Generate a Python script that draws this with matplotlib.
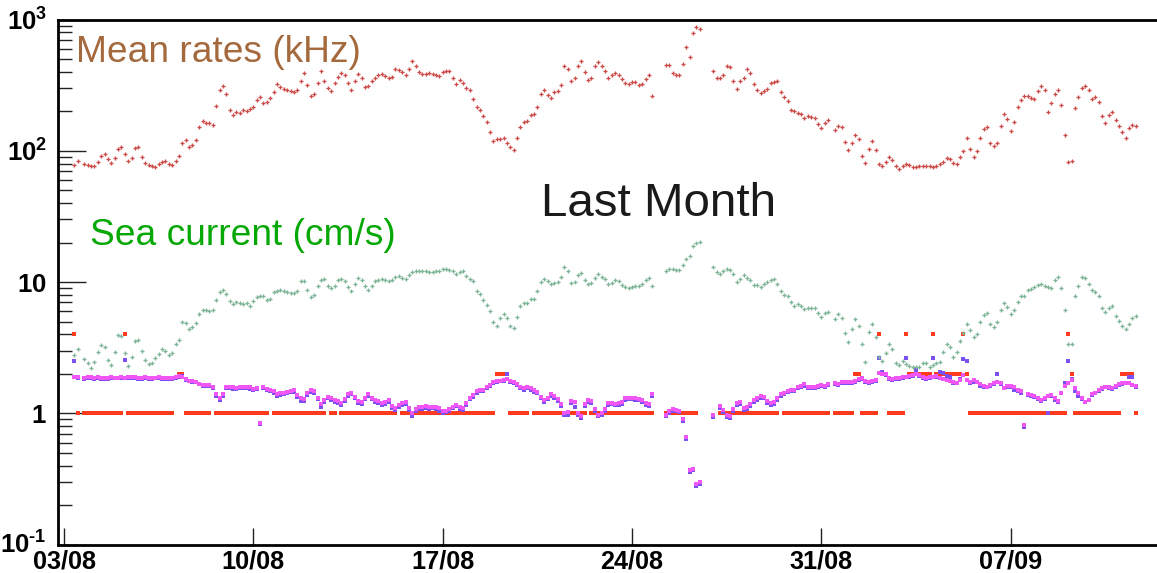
import numpy as np
import matplotlib
matplotlib.use("Agg")
import matplotlib.pyplot as plt
from matplotlib.ticker import LogLocator, NullFormatter
from matplotlib.transforms import ScaledTranslation

N = np.nan

# ---------------- data: 3-hourly samples, 8 per day, day 0 = 03/08 ----------------
mean_rate_khz = [
    N, N, N, 78, 83, N, 80, 78,
    76, 77, 82, 92, 94, 87, 81, 88,
    104, 106, 95, 84, 88, 105, 107, 90,
    81, 78, 76, 75, 79, 82, 84, 79,
    78, 84, 91, 115, 121, 106, 110, 121,
    152, 169, 163, 164, 158, 220, 290, 313,
    270, 204, 189, 196, 194, 206, 202, 208,
    214, 245, 258, 232, 237, 252, 278, 322,
    307, 295, 290, 283, 280, 290, 340, 388,
    316, 262, 270, 326, 402, 340, 303, 283,
    331, 366, 388, 377, 326, 290, 341, 384,
    361, 307, 310, 340, 360, 375, 384, 373,
    361, 365, 419, 414, 400, 380, 420, 480,
    443, 395, 384, 384, 390, 382, 375, 373,
    395, 402, 402, 360, 322, 345, 330, 303,
    290, 250, 216, 204, 185, 165, 140, 118,
    123, 123, 125, 115, 107, 102, 125, 152,
    166, 169, 187, 190, 215, 270, 290, 265,
    251, 281, 286, 318, 443, 420, 340, 361,
    443, 482, 395, 345, 360, 440, 475, 443,
    402, 361, 380, 388, 378, 352, 331, 322,
    334, 335, 318, 322, 350, 380, 260, N,
    N, N, 454, 454, 388, 380, 380, 459,
    622, 520, 795, 881, 853, N, N, N,
    402, 361, 358, 380, 440, 431, 340, 298,
    341, 358, 419, 391, 320, 290, 275, 283,
    298, 326, 335, 341, 280, 255, 240, 205,
    202, 195, 190, 179, 183, 182, 177, 160,
    148, 163, 172, N, 145, 155, 151, 117,
    102, 115, 133, 123, 92, 81, 104, 119,
    102, 80, 77, 82, 90, 85, 77, 73,
    76, 79, 78, 75, 75, 76, 77, 76,
    76, 75, 77, 79, 82, 88, 86, 81,
    80, 90, 100, 125, 104, 90, 99, 125,
    147, 151, 115, 108, 115, 155, 190, 174,
    142, 166, 216, 245, 261, 261, 252, 248,
    283, 309, 291, 196, 233, 273, 290, 224,
    132, 82, 83, 210, 255, 300, 314, 291,
    248, 258, 236, 183, 164, 187, 197, 171,
    155, 138, 126, 150, 158, 155, N, N,
]

sea_current_cms = [
    N, N, N, 2.79, 3.10, N, 2.61, 2.41,
    2.22, 2.48, 2.96, 3.29, 3.23, 2.56, 2.32, 2.92,
    3.97, 3.90, 2.87, 2.28, 2.71, 3.59, 3.63, 3.01,
    2.53, 2.39, 2.42, 2.65, 2.81, 3.07, 2.98, 2.78,
    2.89, 3.36, 3.63, 5.01, 4.92, 4.41, 4.54, 4.86,
    5.67, 6.08, 6.08, 6.0, 6.15, 7.25, 8.38, 8.73,
    8.14, 7.12, 6.83, 7.1, 6.99, 6.85, 6.9, 6.63,
    7.12, 7.67, 7.86, 7.77, 7.25, 7.46, 8.38, 8.63,
    8.78, 8.52, 8.38, 8.24, 8.24, 8.6, 10.16, 10.16,
    8.73, 7.67, 8.0, 9.26, 10.4, 10.5, 9.37, 9.05,
    9.42, 10.3, 10.5, 10.16, 9.15, 8.6, 9.6, 10.8,
    10.3, 9.26, 8.73, 9.42, 10.16, 10.3, 10.6, 10.3,
    10.16, 10.3, 11.0, 11.2, 10.8, 10.6, 11.4, 12.0,
    12.1, 12.1, 12.1, 12.1, 11.9, 11.9, 12.1, 12.2,
    12.5, 12.5, 12.4, 12.2, 11.6, 12.0, 12.1, 11.2,
    10.6, 10.16, 8.52, 8.05, 7.34, 6.7, 6.0, 5.0,
    4.6, 5.3, 5.74, 5.3, 4.67, 4.49, 5.47, 6.52,
    6.9, 6.9, 7.46, 7.46, 8.6, 10.0, 10.6, 10.2,
    9.7, 9.88, 10.0, 11.0, 13.0, 12.1, 9.9, 10.1,
    11.4, 11.7, 10.4, 9.7, 9.9, 10.8, 11.5, 10.9,
    10.6, 9.7, 9.88, 10.3, 10.2, 9.5, 9.15, 8.98,
    9.15, 9.3, 9.4, 9.7, 10.3, 10.8, 9.42, N,
    N, N, 12.1, 12.6, 12.6, 12.4, 12.3, 13.4,
    15.0, 15.9, 18.7, 19.8, 20.1, N, N, N,
    13.0, 11.9, 11.6, 12.1, 12.5, 12.4, 11.5, 10.1,
    10.6, 11.4, 10.8, 10.4, 9.53, 9.53, 9.2, 9.59,
    10.0, 10.4, 10.6, 9.7, 8.6, 8.0, 7.8, 7.0,
    6.55, 6.83, 6.63, 6.26, 6.37, 6.37, 6.37, 5.79,
    5.41, 5.84, 5.97, N, 5.25, 5.67, 5.31, 4.08,
    3.48, 4.41, 5.2, 4.67, 3.39, 2.48, 4.15, 4.76,
    3.80, 2.7, 2.5, 2.89, 3.35, 3.1, 2.41, 2.32,
    2.5, 2.39, 2.3, 2.25, 2.25, 2.25, 2.4, 2.4,
    2.25, 2.32, 2.41, 2.48, 2.92, 3.39, 3.2, 2.7,
    2.96, 3.53, 4.1, 4.8, 4.33, 3.8, 4.0, 5.0,
    5.6, 5.79, 4.81, 4.54, 4.95, 6.08, 6.9, 6.44,
    5.67, 6.08, 7.03, 7.77, 7.9, 8.73, 8.9, 9.1,
    9.53, 9.7, 9.42, 9.15, 9.05, 10.4, 11.0, 9.05,
    6.08, 3.39, 3.39, 7.81, 9.42, 11.0, 10.8, 9.7,
    8.73, 8.38, 7.81, 6.37, 5.89, 6.37, 6.52, 5.52,
    5.04, 4.67, 4.41, 4.81, 5.31, 5.5, N, N,
]

red_level = [
    N, N, N, 4, 1, N, 1, 1,
    1, 1, 1, 1, 1, 1, 1, 1,
    1, 1, 4, 1, 1, 1, 1, 1,
    1, 1, 1, 1, 1, 1, 1, 1,
    1, N, 2, 2, 1, 1, 1, 1,
    1, 1, 1, 1, N, 1, 1, 1,
    1, 1, 1, 1, 1, 1, 1, 1,
    1, 1, 1, 1, 1, N, 1, 1,
    1, 1, 1, 1, 1, 1, 1, 1,
    1, 1, 1, 1, 1, 1, N, 1,
    1, N, 1, 1, 1, 1, 1, 1,
    1, 1, 1, 1, 1, 1, 1, 1,
    1, 1, 1, N, 1, 1, 1, 1,
    1, 1, 1, 1, 1, 1, 1, 1,
    1, 1, 1, 1, 1, 1, 1, 1,
    1, 1, 1, 1, 1, 1, 1, 1,
    2, 2, 2, 2, 1, 1, 1, 1,
    1, 1, N, 1, 1, 1, 1, 1,
    1, 1, 1, 1, 1, 1, 1, 1,
    1, 1, 1, N, 1, 1, 1, 1,
    1, 1, 1, 1, 1, 1, 1, 1,
    1, 1, 1, 1, 1, 1, 1, N,
    N, N, 1, 1, 1, 1, 1, 1,
    1, 1, 1, 1, N, N, N, N,
    N, N, 1, 1, 1, 1, 1, 1,
    1, 1, 1, 1, 1, 1, 1, 1,
    1, 1, 1, 1, N, 1, 1, 1,
    1, 1, 1, 1, 1, 1, 1, 1,
    1, 1, 1, N, 1, 1, 1, 1,
    1, 1, 2, 2, 1, 1, 1, 1,
    1, 4, N, N, 1, 1, 1, 1,
    1, 4, 2, 2, 2, 2, 2, 2,
    2, 4, 2, 2, 2, 2, 2, 2,
    2, 2, 4, 2, 1, 1, 1, 1,
    1, 1, 1, 1, 1, 1, 1, 1,
    1, 1, 1, 1, 1, 1, 1, 1,
    1, 1, 1, N, 1, 1, 1, 1,
    1, 4, 2, 1, 1, 1, 1, 1,
    1, 1, 1, 1, 1, 1, 1, 1,
    1, 2, 2, 2, 2, 1, N, N,
]

purple_level = [
    N, N, N, 2.50, 1.85, N, 1.84, 1.86,
    1.85, 1.84, 1.86, 1.84, 1.82, 1.84, 1.86, 1.85,
    1.85, 1.86, 2.55, 1.86, 1.85, 1.85, 1.83, 1.84,
    1.85, 1.84, 1.84, 1.85, 1.85, 1.83, 1.82, 1.84,
    1.84, 1.85, 1.90, 1.92, 1.80, 1.76, 1.74, 1.72,
    1.66, 1.63, 1.62, 1.62, 1.55, 1.35, 1.27, 1.36,
    1.55, 1.57, 1.54, 1.53, 1.57, 1.55, 1.57, 1.53,
    1.52, 1.53, 0.83, 1.57, 1.50, 1.48, 1.44, 1.36,
    1.38, 1.40, 1.42, 1.45, 1.46, 1.34, 1.25, 1.24,
    1.38, 1.46, 1.44, 1.28, 1.12, 1.22, 1.30, 1.27,
    1.22, 1.20, 1.16, 1.24, 1.36, 1.41, 1.30, 1.20,
    1.18, 1.28, 1.36, 1.28, 1.22, 1.21, 1.16, 1.18,
    1.22, 1.10, 1.06, 1.12, 1.16, 1.18, 1.06, 0.95,
    1.04, 1.08, 1.08, 1.10, 1.08, 1.09, 1.08, 1.05,
    1.01, 1.02, 1.05, 1.09, 1.13, 1.08, 1.06, 1.16,
    1.28, 1.34, 1.44, 1.48, 1.48, 1.56, 1.62, 1.70,
    1.74, 1.76, 1.78, 1.98, 1.74, 1.70, 1.64, 1.57,
    1.52, 1.55, 1.52, 1.46, 1.42, 1.30, 1.22, 1.28,
    1.36, 1.32, 1.24, 1.14, 0.97, 0.98, 1.20, 1.12,
    0.97, 0.93, 1.14, 1.22, 1.20, 1.04, 0.95, 0.97,
    1.04, 1.16, 1.17, 1.15, 1.16, 1.18, 1.27, 1.29,
    1.28, 1.27, 1.26, 1.22, 1.16, 1.14, 1.36, N,
    N, N, 0.95, 1.00, 1.05, 1.04, 1.02, 0.88,
    0.64, 0.36, 0.37, 0.28, 0.29, N, N, N,
    0.94, N, 1.10, 1.03, 0.94, 0.92, 1.05, 1.16,
    1.18, 1.06, 1.08, 1.14, 1.22, 1.27, 1.32, 1.30,
    1.20, 1.16, 1.18, 1.26, 1.36, 1.40, 1.45, 1.47,
    1.47, 1.55, 1.58, 1.63, 1.57, 1.55, 1.57, 1.58,
    1.61, 1.59, 1.65, N, 1.66, 1.64, 1.69, 1.71,
    1.70, 1.70, 1.74, 1.79, 1.82, 1.73, 1.69, 1.72,
    1.77, 2.62, 2.05, 1.95, 1.83, 1.79, 1.82, 1.82,
    1.85, 2.62, 1.90, 1.93, 2.14, 1.94, 1.87, 1.83,
    1.87, 2.65, 1.89, 2.07, 2.04, 1.92, 1.90, 1.70,
    1.69, 1.82, 2.58, 2.52, 1.71, 1.74, 1.72, 1.62,
    1.59, 1.58, 1.62, 1.67, 2.01, 1.66, 1.55, 1.58,
    1.58, 1.52, 1.48, 1.44, 0.79, 1.38, 1.36, 1.34,
    1.28, 1.24, 1.28, 1.01, 1.36, 1.26, 1.22, 1.42,
    1.71, 2.52, 1.82, 1.49, 1.36, 1.28, 1.22, 1.26,
    1.38, 1.42, 1.48, 1.54, 1.58, 1.55, 1.54, 1.60,
    1.64, 1.68, 1.70, 1.88, 1.88, 1.58, N, N,
]

magenta_level = [
    N, N, N, 1.88, 1.88, N, 1.86, 1.88,
    1.88, 1.86, 1.88, 1.87, 1.85, 1.86, 1.88, 1.87,
    1.87, 1.88, 1.87, 1.90, 1.88, 1.88, 1.86, 1.87,
    1.88, 1.87, 1.86, 1.87, 1.88, 1.86, 1.85, 1.86,
    1.86, 1.88, 1.92, 1.90, 1.82, 1.78, 1.76, 1.74,
    1.68, 1.65, 1.64, 1.64, 1.58, 1.40, 1.32, 1.40,
    1.58, 1.60, 1.58, 1.56, 1.60, 1.58, 1.60, 1.58,
    1.54, 1.56, 0.85, 1.60, 1.53, 1.50, 1.47, 1.40,
    1.42, 1.44, 1.46, 1.48, 1.50, 1.38, 1.30, 1.28,
    1.42, 1.50, 1.48, 1.32, 1.18, 1.26, 1.34, 1.30,
    1.26, 1.24, 1.20, 1.28, 1.40, 1.44, 1.34, 1.24,
    1.22, 1.32, 1.40, 1.32, 1.26, 1.25, 1.20, 1.22,
    1.26, 1.14, 1.10, 1.16, 1.20, 1.22, 1.10, 1.00,
    1.08, 1.12, 1.11, 1.13, 1.11, 1.12, 1.11, 1.09,
    1.04, 1.05, 1.08, 1.12, 1.16, 1.12, 1.10, 1.20,
    1.32, 1.38, 1.48, 1.52, 1.52, 1.60, 1.65, 1.74,
    1.76, 1.78, 1.80, 1.82, 1.76, 1.72, 1.66, 1.60,
    1.56, 1.58, 1.55, 1.50, 1.45, 1.34, 1.26, 1.32,
    1.40, 1.36, 1.28, 1.18, 1.00, 1.02, 1.24, 1.22,
    1.00, 0.96, 1.18, 1.26, 1.24, 1.08, 0.98, 1.00,
    1.08, 1.20, 1.20, 1.18, 1.20, 1.22, 1.30, 1.32,
    1.31, 1.30, 1.29, 1.26, 1.20, 1.18, 1.40, N,
    N, N, 0.98, 1.04, 1.08, 1.07, 1.05, 0.90,
    0.66, 0.37, 0.38, 0.29, 0.30, N, N, N,
    0.97, N, 1.14, 1.07, 0.97, 0.95, 1.08, 1.20,
    1.22, 1.10, 1.12, 1.18, 1.26, 1.31, 1.36, 1.34,
    1.24, 1.20, 1.22, 1.30, 1.40, 1.44, 1.48, 1.50,
    1.50, 1.58, 1.61, 1.66, 1.60, 1.58, 1.60, 1.61,
    1.64, 1.62, 1.68, N, 1.69, 1.67, 1.72, 1.74,
    1.72, 1.72, 1.77, 1.82, 1.85, 1.76, 1.72, 1.75,
    1.80, 2.02, 2.00, 1.98, 1.86, 1.82, 1.85, 1.85,
    1.88, 1.90, 1.94, 1.96, 2.00, 1.97, 1.90, 1.86,
    1.90, 1.90, 1.92, 1.86, 1.83, 1.79, 1.76, 1.72,
    1.70, 1.79, 1.96, 1.79, 1.74, 1.79, 1.74, 1.66,
    1.62, 1.60, 1.65, 1.70, 1.74, 1.70, 1.56, 1.62,
    1.62, 1.60, 1.52, 1.48, 0.82, 1.40, 1.38, 1.36,
    1.30, 1.26, 1.30, 1.35, 1.38, 1.30, 1.25, 1.44,
    1.62, 1.69, 1.80, 1.55, 1.42, 1.30, 1.22, 1.26,
    1.40, 1.44, 1.50, 1.56, 1.60, 1.58, 1.56, 1.62,
    1.66, 1.69, 1.71, 1.69, 1.64, 1.61, N, N,
]

samples_per_day = 8
date_days = [0, 7, 14, 21, 28, 35]
date_labels = ["03/08", "10/08", "17/08", "24/08", "31/08", "07/09"]
ytick_values = [0.1, 1, 10, 100, 1000]
ytick_labels = [r"$\mathbf{10}^{\text{-}\mathbf{1}}$", r"$\mathbf{1}$", r"$\mathbf{10}$",
                r"$\mathbf{10^{2}}$", r"$\mathbf{10^{3}}$"]

# ---------------- figure ----------------
plt.rcParams["font.family"] = ["Liberation Sans", "DejaVu Sans"]
plt.rcParams["mathtext.fontset"] = "custom"
plt.rcParams["mathtext.rm"] = "Liberation Sans:bold"
plt.rcParams["mathtext.bf"] = "Liberation Sans:bold"
plt.rcParams["mathtext.it"] = "Liberation Sans:italic"

W, H = 1157, 573
fig = plt.figure(figsize=(W / 100, H / 100), dpi=100)
fig.patch.set_facecolor("white")

ax_left, ax_bottom_px, ax_top_px = 58, 544.7, 19.5
ax = fig.add_axes([ax_left / W, (H - ax_bottom_px) / H, 1 - ax_left / W,
                   (ax_bottom_px - ax_top_px) / H])

t = np.arange(len(mean_rate_khz)) / samples_per_day

sq = dict(linestyle="none", marker="s", markersize=3.0, markeredgewidth=0)
ax.plot(t, red_level, color="#ff3a1e", **sq)
ax.plot(t, purple_level, color="#7a50f2", **sq)
ax.plot(t, magenta_level, color="#f055f6", **sq)

pl = dict(linestyle="none", marker="+", markersize=3.5, markeredgewidth=0.95)
ax.plot(t, sea_current_cms, color="#7fb597", **pl)
ax.plot(t, mean_rate_khz, color="#cc4b48", **pl)

ax.set_yscale("log")
ax.set_ylim(0.1, 1000)
px_per_day = 27.05
x0 = -(64 - ax_left) / px_per_day
ax.set_xlim(x0, x0 + (W - ax_left) / px_per_day)

ax.set_yticks(ytick_values, labels=ytick_labels)
ax.yaxis.set_minor_locator(LogLocator(base=10, subs=np.arange(2, 10)))
ax.yaxis.set_minor_formatter(NullFormatter())
ax.set_xticks(date_days, labels=date_labels)
ax.xaxis.set_minor_locator(plt.NullLocator())

for lab in ax.get_xticklabels():
    lab.set_fontweight("bold")
ax.tick_params(axis="x", which="major", direction="in", length=12.5, width=1.0,
               color="#222222", labelsize=18.2, pad=3.5)
ax.tick_params(axis="y", which="major", direction="in", length=20, width=1.0,
               color="#222222", labelsize=18.5, pad=8)
ax.tick_params(axis="y", which="minor", direction="in", length=10, width=1.0,
               color="#222222")

# lift the bottom y label a little so it clears the first date label
low_lab = ax.get_yticklabels()[0]
low_lab.set_transform(low_lab.get_transform()
                      + ScaledTranslation(0, 2.5 / 100, fig.dpi_scale_trans))

for s in ["left", "bottom", "top"]:
    ax.spines[s].set_linewidth(2.0)
    ax.spines[s].set_color("black")
ax.spines["right"].set_visible(False)

def fig_text(xpx, ybase_px, s, **kw):
    fig.text(xpx / W, 1 - ybase_px / H, s, va="baseline", ha="left", **kw)

fig_text(75.5, 61.7, "Mean rates (kHz)", fontsize=26.7, color="#a4693c")
fig_text(90, 245, "Sea current (cm/s)", fontsize=26.7, color="#06a806")
fig_text(541, 216, "Last Month", fontsize=34.2, color="#1a1a1a")

fig.savefig("out.png", dpi=100, facecolor="white")
